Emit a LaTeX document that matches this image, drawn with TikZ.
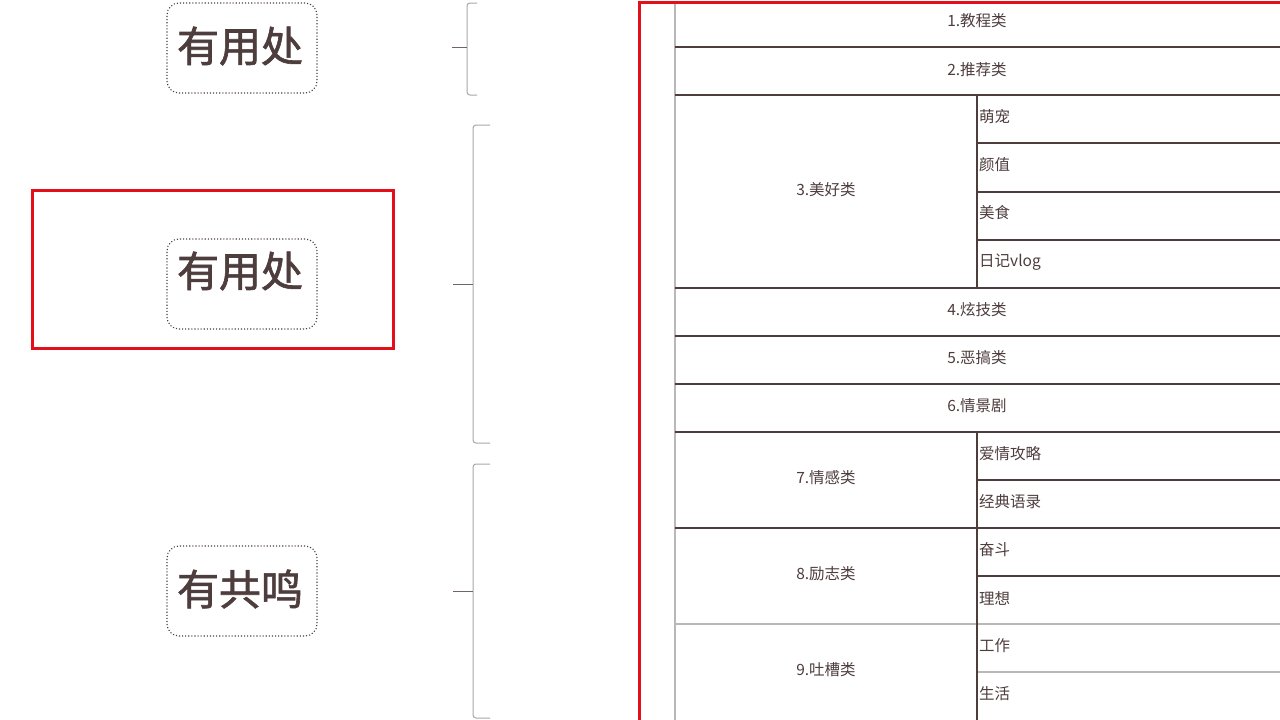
\documentclass[tikz,border=0pt]{standalone}
\usepackage{fontspec}
\setmainfont{Liberation Sans}
\newfontfamily\cjk{Noto Sans CJK SC}
\newfontfamily\cjkbig[FakeBold=1.5]{Noto Sans CJK SC}
\definecolor{ink}{HTML}{4E3D3D}
\definecolor{redframe}{HTML}{E3101B}
\definecolor{lightline}{HTML}{B8B8B8}
\definecolor{brk}{HTML}{A8A8A8}
\tikzset{
  bigbox/.style={draw=ink, dotted, line width=1.1pt, rounded corners=12pt, minimum width=150pt, minimum height=90pt, inner sep=0pt},
  bigtext/.style={text=ink, font=\cjkbig\fontsize{42}{46}\selectfont, inner sep=0pt},
  celltext/.style={text=ink, font=\cjk\fontsize{15.5}{17}\selectfont, inner sep=0pt},
  subtext/.style={celltext, anchor=west},
  tline/.style={draw=ink, line width=1.1pt},
  gline/.style={draw=lightline, line width=1.6pt},
  bracketline/.style={draw=brk, line width=1pt, rounded corners=3pt},
  bracketick/.style={draw=ink!80, line width=1pt},
}
\begin{document}
\begin{tikzpicture}[x=1pt,y=-1pt]
\useasboundingbox (0,0) rectangle (1280,720);
\fill[white] (0,0) rectangle (1280,720);

% left boxes
\node[bigbox] (b1) at (242,48) {};
\node[bigtext] (t1) at (240,46) {有用处};
\draw[redframe, line width=3pt] (32,190) rectangle (393,348);
\node[bigbox] (b2) at (242,284) {};
\node[bigtext] (t2) at (240,271) {有用处};
\node[bigbox] (b3) at (242,591) {};
\node[bigtext] (t3) at (240,589) {有共鸣};

% brackets
\coordinate (k1) at (452,47);
\coordinate (k2) at (453,284);
\coordinate (k3) at (453,591);
\draw[bracketline] (477,3) -- (467,3) -- (467,95) -- (477,95);
\draw[bracketick] (k1) -- (467,47);
\draw[bracketline] (490,125) -- (473,125) -- (473,443) -- (490,443);
\draw[bracketick] (k2) -- (473,284);
\draw[bracketline] (490,464) -- (473,464) -- (473,718) -- (490,718);
\draw[bracketick] (k3) -- (473,591);

% right red frame
\draw[redframe, line width=3pt] (1282,2.5) -- (639,2.5) -- (639,722);

% table
\draw[gline] (675,4) -- (675,720);
\foreach \y in {47,95,288,336,384,432,528}{
  \draw[tline] (675,\y) -- (1280,\y);
}
\foreach \y in {143,192,240,480,576}{
  \draw[tline] (977,\y) -- (1280,\y);
}
\draw[gline] (675,624) -- (1280,624);
\draw[gline] (977,672) -- (1280,672);
\draw[tline] (977,95) -- (977,288);
\draw[tline] (977,432) -- (977,720);

\node[celltext] (r1) at (977,21) {1.教程类};
\node[celltext] (r2) at (977,70) {2.推荐类};
\node[celltext] (r3) at (826,190) {3.美好类};
\node[subtext] (s31) at (979,117) {萌宠};
\node[subtext] (s32) at (979,165) {颜值};
\node[subtext] (s33) at (979,213) {美食};
\node[subtext] (s34) at (979,262) {日记vlog};
\node[celltext] (r4) at (977,310) {4.炫技类};
\node[celltext] (r5) at (977,358) {5.恶搞类};
\node[celltext] (r6) at (977,406) {6.情景剧};
\node[celltext] (r7) at (826,478) {7.情感类};
\node[subtext] (s71) at (979,454) {爱情攻略};
\node[subtext] (s72) at (979,502) {经典语录};
\node[celltext] (r8) at (826,574) {8.励志类};
\node[subtext] (s81) at (979,550) {奋斗};
\node[subtext] (s82) at (979,598) {理想};
\node[celltext] (r9) at (826,670) {9.吐槽类};
\node[subtext] (s91) at (979,646) {工作};
\node[subtext] (s92) at (979,694) {生活};
\end{tikzpicture}
\end{document}
